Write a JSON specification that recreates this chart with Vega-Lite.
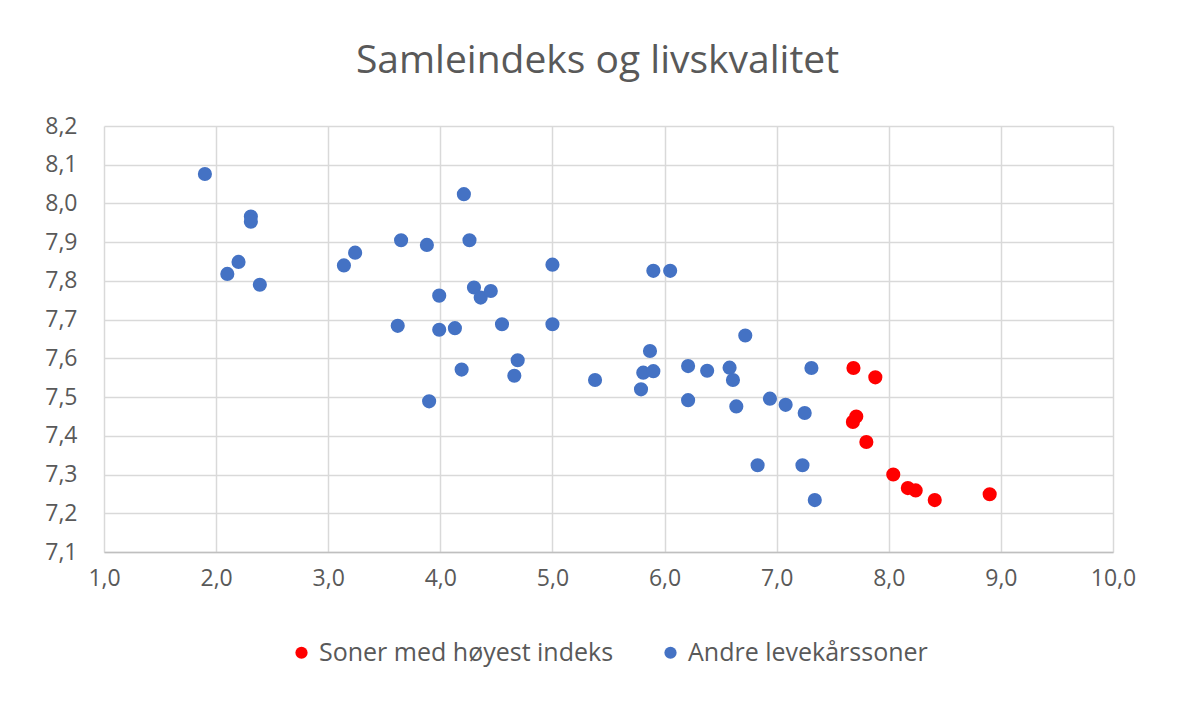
{
  "$schema": "https://vega.github.io/schema/vega-lite/v6.json",
  "autosize": "none",
  "width": 1009,
  "height": 426,
  "padding": {"left": 104, "top": 126, "right": 65, "bottom": 155},
  "background": "white",
  "title": {
    "text": "Samleindeks og livskvalitet",
    "font": "Open Sans",
    "fontSize": 39,
    "fontWeight": "normal",
    "color": "#595959",
    "anchor": "middle",
    "dx": -11,
    "offset": 34
  },
  "data": {
    "values": [
      {"x": 1.90, "y": 8.076, "gruppe": "Andre levekårssoner"},
      {"x": 2.31, "y": 7.966, "gruppe": "Andre levekårssoner"},
      {"x": 2.31, "y": 7.953, "gruppe": "Andre levekårssoner"},
      {"x": 2.20, "y": 7.849, "gruppe": "Andre levekårssoner"},
      {"x": 2.10, "y": 7.818, "gruppe": "Andre levekårssoner"},
      {"x": 2.39, "y": 7.790, "gruppe": "Andre levekårssoner"},
      {"x": 3.14, "y": 7.840, "gruppe": "Andre levekårssoner"},
      {"x": 3.24, "y": 7.873, "gruppe": "Andre levekårssoner"},
      {"x": 3.65, "y": 7.905, "gruppe": "Andre levekårssoner"},
      {"x": 3.88, "y": 7.893, "gruppe": "Andre levekårssoner"},
      {"x": 4.21, "y": 8.024, "gruppe": "Andre levekårssoner"},
      {"x": 4.26, "y": 7.905, "gruppe": "Andre levekårssoner"},
      {"x": 3.99, "y": 7.762, "gruppe": "Andre levekårssoner"},
      {"x": 3.62, "y": 7.684, "gruppe": "Andre levekårssoner"},
      {"x": 3.99, "y": 7.674, "gruppe": "Andre levekårssoner"},
      {"x": 4.13, "y": 7.678, "gruppe": "Andre levekårssoner"},
      {"x": 4.30, "y": 7.783, "gruppe": "Andre levekårssoner"},
      {"x": 4.36, "y": 7.757, "gruppe": "Andre levekårssoner"},
      {"x": 4.45, "y": 7.774, "gruppe": "Andre levekårssoner"},
      {"x": 4.55, "y": 7.688, "gruppe": "Andre levekårssoner"},
      {"x": 5.00, "y": 7.842, "gruppe": "Andre levekårssoner"},
      {"x": 5.00, "y": 7.688, "gruppe": "Andre levekårssoner"},
      {"x": 4.69, "y": 7.595, "gruppe": "Andre levekårssoner"},
      {"x": 4.66, "y": 7.555, "gruppe": "Andre levekårssoner"},
      {"x": 4.19, "y": 7.571, "gruppe": "Andre levekårssoner"},
      {"x": 3.90, "y": 7.489, "gruppe": "Andre levekårssoner"},
      {"x": 5.38, "y": 7.544, "gruppe": "Andre levekårssoner"},
      {"x": 5.87, "y": 7.619, "gruppe": "Andre levekårssoner"},
      {"x": 5.81, "y": 7.563, "gruppe": "Andre levekårssoner"},
      {"x": 5.90, "y": 7.567, "gruppe": "Andre levekårssoner"},
      {"x": 5.79, "y": 7.520, "gruppe": "Andre levekårssoner"},
      {"x": 5.90, "y": 7.826, "gruppe": "Andre levekårssoner"},
      {"x": 6.05, "y": 7.826, "gruppe": "Andre levekårssoner"},
      {"x": 6.72, "y": 7.659, "gruppe": "Andre levekårssoner"},
      {"x": 6.21, "y": 7.580, "gruppe": "Andre levekårssoner"},
      {"x": 6.38, "y": 7.568, "gruppe": "Andre levekårssoner"},
      {"x": 6.58, "y": 7.576, "gruppe": "Andre levekårssoner"},
      {"x": 6.61, "y": 7.544, "gruppe": "Andre levekårssoner"},
      {"x": 7.31, "y": 7.575, "gruppe": "Andre levekårssoner"},
      {"x": 6.21, "y": 7.492, "gruppe": "Andre levekårssoner"},
      {"x": 6.64, "y": 7.476, "gruppe": "Andre levekårssoner"},
      {"x": 6.94, "y": 7.496, "gruppe": "Andre levekårssoner"},
      {"x": 7.08, "y": 7.480, "gruppe": "Andre levekårssoner"},
      {"x": 7.25, "y": 7.459, "gruppe": "Andre levekårssoner"},
      {"x": 6.83, "y": 7.324, "gruppe": "Andre levekårssoner"},
      {"x": 7.23, "y": 7.324, "gruppe": "Andre levekårssoner"},
      {"x": 7.34, "y": 7.234, "gruppe": "Andre levekårssoner"},
      {"x": 7.685, "y": 7.575, "gruppe": "Soner med høyest indeks"},
      {"x": 7.88, "y": 7.551, "gruppe": "Soner med høyest indeks"},
      {"x": 7.71, "y": 7.450, "gruppe": "Soner med høyest indeks"},
      {"x": 7.68, "y": 7.436, "gruppe": "Soner med høyest indeks"},
      {"x": 7.80, "y": 7.384, "gruppe": "Soner med høyest indeks"},
      {"x": 8.04, "y": 7.300, "gruppe": "Soner med høyest indeks"},
      {"x": 8.17, "y": 7.265, "gruppe": "Soner med høyest indeks"},
      {"x": 8.24, "y": 7.259, "gruppe": "Soner med høyest indeks"},
      {"x": 8.41, "y": 7.234, "gruppe": "Soner med høyest indeks"},
      {"x": 8.90, "y": 7.249, "gruppe": "Soner med høyest indeks"}
    ]
  },
  "mark": {"type": "circle", "size": 200, "opacity": 1},
  "encoding": {
    "x": {
      "field": "x",
      "type": "quantitative",
      "scale": {"domain": [1, 10], "nice": false, "zero": false},
      "axis": {
        "title": null,
        "values": [1, 2, 3, 4, 5, 6, 7, 8, 9, 10],
        "labelExpr": "replace(format(datum.value, '.1f'), '.', ',')",
        "ticks": false,
        "domain": true,
        "domainColor": "#bfbfbf",
        "domainWidth": 1.5,
        "labelPadding": 15,
        "labelFlush": false,
        "labelFontSize": 23
      }
    },
    "y": {
      "field": "y",
      "type": "quantitative",
      "scale": {"domain": [7.1, 8.2], "nice": false, "zero": false},
      "axis": {
        "title": null,
        "values": [7.1, 7.2, 7.3, 7.4, 7.5, 7.6, 7.7, 7.8, 7.9, 8.0, 8.1, 8.2],
        "labelExpr": "replace(format(datum.value, '.1f'), '.', ',')",
        "ticks": false,
        "domain": false,
        "labelPadding": 27,
        "labelFlush": false,
        "labelFontSize": 23
      }
    },
    "color": {
      "field": "gruppe",
      "type": "nominal",
      "scale": {
        "domain": ["Soner med høyest indeks", "Andre levekårssoner"],
        "range": ["#ff0000", "#4472c4"]
      },
      "legend": {
        "title": null,
        "orient": "bottom",
        "direction": "horizontal",
        "symbolType": "circle",
        "symbolSize": 150,
        "labelFontSize": 25,
        "labelFont": "Open Sans",
        "labelColor": "#595959",
        "labelLimit": 0,
        "labelOffset": 5,
        "columnPadding": 44,
        "offset": 50
      }
    }
  },
  "config": {
    "view": {"stroke": null},
    "legend": {"layout": {"bottom": {"anchor": "middle"}}},
    "axis": {
      "grid": true,
      "gridColor": "#d9d9d9",
      "gridWidth": 1.5,
      "labelFont": "Open Sans",
      "labelColor": "#595959"
    }
  }
}
